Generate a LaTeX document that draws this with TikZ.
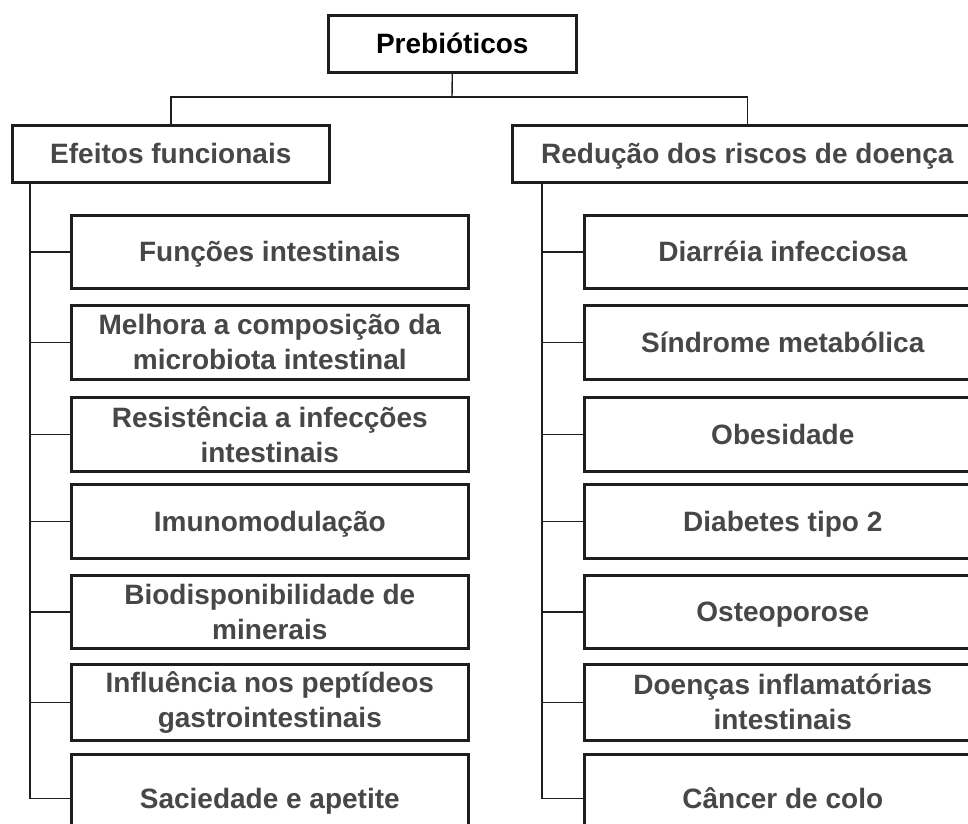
\documentclass[tikz,border=0pt]{standalone}
\usepackage{fontspec}
\setmainfont{Liberation Sans}
\definecolor{txtgray}{HTML}{474747}
\definecolor{linegray}{HTML}{1E1E1E}
\begin{document}
\begin{tikzpicture}[x=1pt,y=-1pt,
  boxbase/.style={draw=linegray, line width=2.6pt, fill=white, inner sep=0pt, anchor=north west,
    align=center, font=\fontsize{28}{35}\selectfont\bfseries, text=txtgray},
  oneline/.style={boxbase, text height=20pt, text depth=0pt},
  topbox/.style={oneline, text=black},
  conn/.style={draw=linegray, line width=1.4pt}]
\useasboundingbox (0,0) rectangle (968,823);
\clip (0,0) rectangle (968,823);
\fill[white] (0,0) rectangle (968,823);

\node[topbox, minimum width=248pt, minimum height=57pt] (top) at (327,14) {Prebióticos};
\node[oneline, minimum width=317pt, minimum height=57pt] (lh) at (11,124) {Efeitos funcionais};
\node[oneline, minimum width=470pt, minimum height=57pt] (rh) at (511,124) {Redução dos riscos de doença};

% left column
\node[oneline, minimum width=397pt, minimum height=73pt] (l1) at (70,214) {Funções intestinais};
\node[boxbase, minimum width=397pt, minimum height=74pt] (l2) at (70,304) {Melhora a composição da\\microbiota intestinal};
\node[boxbase, minimum width=397pt, minimum height=74pt] (l3) at (70,396) {Resistência a infecções\\intestinais};
\node[oneline, minimum width=397pt, minimum height=74pt] (l4) at (70,483) {Imunomodulação};
\node[boxbase, minimum width=397pt, minimum height=73pt] (l5) at (70,574) {Biodisponibilidade de\\minerais};
\node[boxbase, minimum width=397pt, minimum height=76pt] (l6) at (70,663) {Influência nos peptídeos\\gastrointestinais};
\node[oneline, minimum width=397pt, minimum height=88pt] (l7) at (70,753) {Saciedade e apetite};

% right column
\node[oneline, minimum width=397pt, minimum height=73pt] (r1) at (583,214) {Diarréia infecciosa};
\node[oneline, minimum width=397pt, minimum height=74pt] (r2) at (583,304) {Síndrome metabólica};
\node[oneline, minimum width=397pt, minimum height=74pt] (r3) at (583,396) {Obesidade};
\node[oneline, minimum width=397pt, minimum height=74pt] (r4) at (583,483) {Diabetes tipo 2};
\node[oneline, minimum width=397pt, minimum height=73pt] (r5) at (583,574) {Osteoporose};
\node[boxbase, minimum width=397pt, minimum height=76pt] (r6) at (583,663) {Doenças inflamatórias\\intestinais};
\node[oneline, minimum width=397pt, minimum height=88pt] (r7) at (583,753) {Câncer de colo};

% connectors
\coordinate (tj) at (452,97);
\coordinate (lt) at (30,181);
\coordinate (rt) at (542,181);
\draw[conn] (top.south) -- (tj);
\draw[conn] (lh.north) |- (tj) -| (rh.north);
\draw[conn] (lt) |- (l7.west);
\draw[conn] (rt) |- (r7.west);
\foreach \i in {1,...,6} {
  \draw[conn] (l\i.west) -- (l\i.west -| lt);
  \draw[conn] (r\i.west) -- (r\i.west -| rt);
}
\end{tikzpicture}
\end{document}
